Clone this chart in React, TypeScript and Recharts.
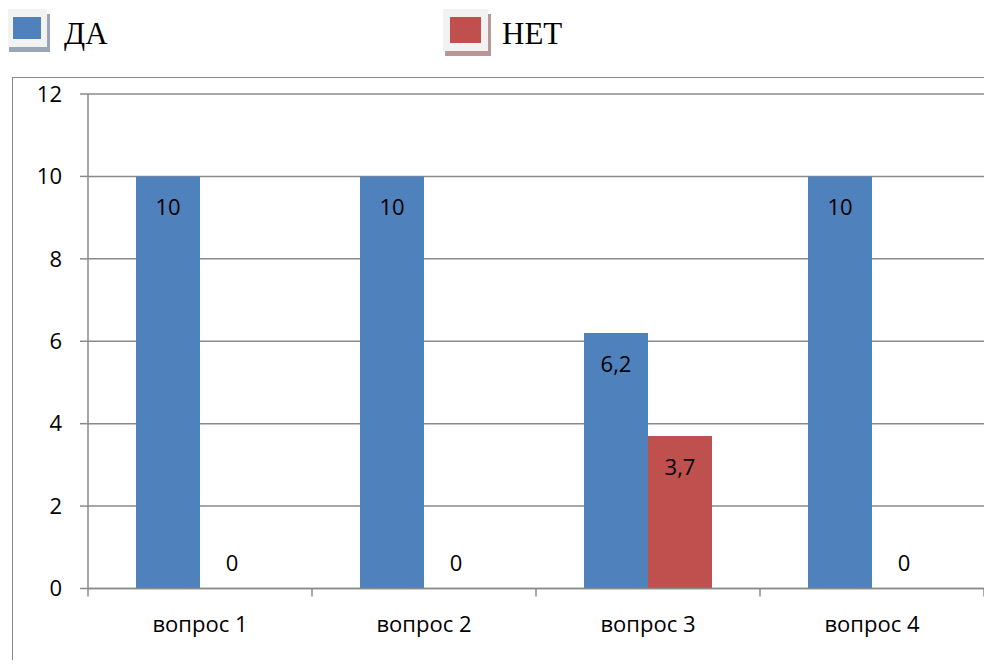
import { BarChart, Bar, XAxis, YAxis, CartesianGrid, LabelList, Rectangle } from 'recharts'

const CATEGORIES = ['вопрос 1', 'вопрос 2', 'вопрос 3', 'вопрос 4']
const DA = [10, 10, 6.2, 10]
const NET = [0, 0, 3.7, 0]
const Y_TICKS = [0, 2, 4, 6, 8, 10, 12]

const BLUE = '#4F81BD'
const RED = '#C0504D'
const LINE = '#8a8a8a'
const FONT = '"Open Sans", "Noto Sans", sans-serif'
const SERIF = '"Liberation Serif", "DejaVu Serif", serif'

const PLOT_LEFT = 88
const PLOT_RIGHT = 984
const BAND = (PLOT_RIGHT - PLOT_LEFT) / CATEGORIES.length

const data = CATEGORIES.map((name, i) => ({ name, da: DA[i], net: NET[i] }))

function fmt(v: number) {
  return String(v).replace('.', ',')
}

// excel puts the label of an empty bar just above the axis
function BarLabel(props: any) {
  const { x, y, width, height, value } = props
  const cx = Number(x) + Number(width) / 2
  const empty = Number(value) === 0
  const cy = empty ? Number(y) + Number(height) - 27 : Number(y) + 30
  return (
    <text x={cx} y={cy} textAnchor="middle" dominantBaseline="central" fontSize={22} fontFamily={FONT} fill="#000">
      {fmt(value)}
    </text>
  )
}

// zero bars get minPointSize so their label survives, but nothing is drawn
function BarShape(props: any) {
  if (Math.abs(props.height) < 1.5) return <g />
  return <Rectangle {...props} />
}

function XTick(props: any) {
  const { x, y, payload, index } = props
  const left = x - BAND / 2
  return (
    <g>
      <line x1={left} y1={y} x2={left} y2={y + 8} stroke={LINE} strokeWidth={1.5} />
      {index === CATEGORIES.length - 1 && (
        <line x1={x + BAND / 2} y1={y} x2={x + BAND / 2} y2={y + 8} stroke={LINE} strokeWidth={1.5} />
      )}
      <text x={x} y={y + 43} textAnchor="middle" fontSize={22} fontFamily={FONT} fill="#000">
        {payload.value}
      </text>
    </g>
  )
}

type IconProps = { left: number; top: number; w: number; h: number; inset: number; color: string; shadow: string }

function LegendIcon({ left, top, w, h, inset, color, shadow }: IconProps) {
  return (
    <>
      <div style={{ position: 'absolute', left: left + 2, top: top + 5, width: w + 1, height: h, background: shadow }} />
      <div style={{ position: 'absolute', left, top, width: w, height: h, background: '#f2f2f2' }} />
      <div
        style={{
          position: 'absolute',
          left: left + inset,
          top: top + 8,
          width: w - inset * 2,
          height: h - 16,
          background: color,
        }}
      />
    </>
  )
}

export default function App() {
  return (
    <div style={{ position: 'relative', width: 992, height: 668, margin: -8, overflow: 'hidden', background: '#fff' }}>
      <LegendIcon left={7} top={9} w={40} h={38} inset={6} color={BLUE} shadow="#98a6ba" />
      <div style={{ position: 'absolute', left: 64, top: 18, fontFamily: SERIF, fontSize: 31, lineHeight: '31px' }}>
        ДА
      </div>
      <LegendIcon left={443} top={9} w={45} h={42} inset={7} color={RED} shadow="#bb9696" />
      <div style={{ position: 'absolute', left: 502, top: 18, fontFamily: SERIF, fontSize: 31, lineHeight: '31px' }}>
        НЕТ
      </div>
      <div style={{ position: 'absolute', left: 12, top: 77, width: 1000, height: 620, border: `1.5px solid ${LINE}` }} />
      <div style={{ position: 'absolute', left: 0, top: 0 }}>
        <BarChart
          width={992}
          height={668}
          data={data}
          margin={{ top: 94, right: 992 - PLOT_RIGHT, bottom: 49.5, left: 38 }}
          barCategoryGap={48}
          barGap={0}
        >
          <CartesianGrid vertical={false} stroke={LINE} strokeWidth={1.5} />
          <XAxis
            dataKey="name"
            height={30}
            axisLine={{ stroke: LINE, strokeWidth: 1.5 }}
            tickLine={false}
            tickSize={0}
            tickMargin={0}
            tick={XTick}
            interval={0}
          />
          <YAxis
            width={50}
            domain={[0, 12]}
            ticks={Y_TICKS}
            interval={0}
            axisLine={{ stroke: LINE, strokeWidth: 1.5 }}
            tickLine={{ stroke: LINE, strokeWidth: 1.5 }}
            tickSize={8}
            tickMargin={18}
            tick={{ fontSize: 22, fontFamily: FONT, fill: '#000' }}
          />
          <Bar dataKey="da" fill={BLUE} minPointSize={1} shape={BarShape} isAnimationActive={false}>
            <LabelList dataKey="da" content={BarLabel} />
          </Bar>
          <Bar dataKey="net" fill={RED} minPointSize={1} shape={BarShape} isAnimationActive={false}>
            <LabelList dataKey="net" content={BarLabel} />
          </Bar>
        </BarChart>
      </div>
    </div>
  )
}
